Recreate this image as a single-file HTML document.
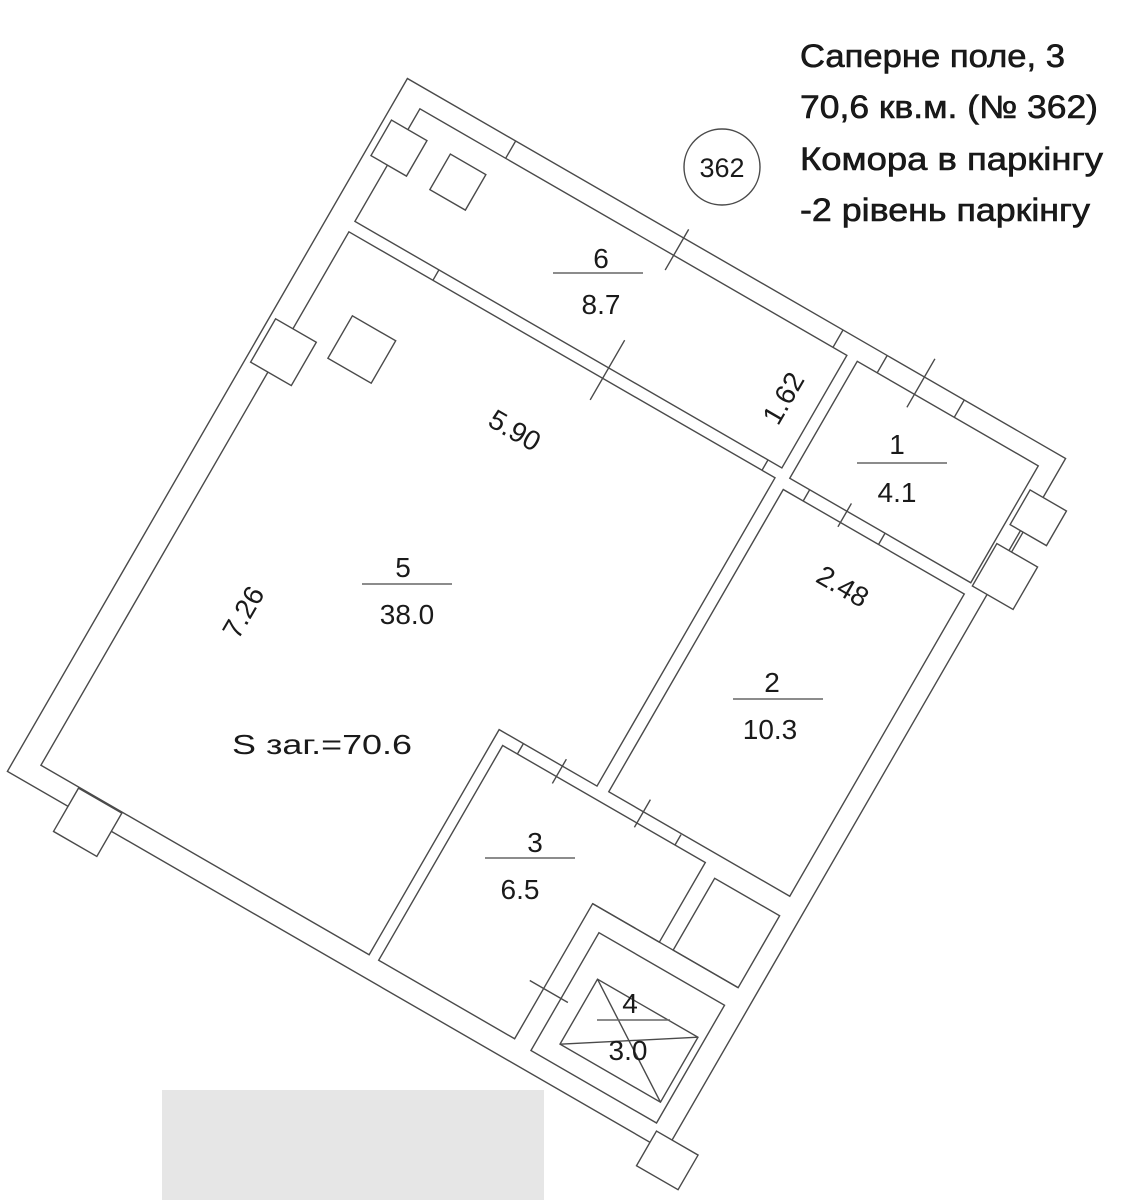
<!DOCTYPE html>
<html><head><meta charset="utf-8"><style>
html,body{margin:0;padding:0;background:#fff;}
svg{display:block;}
text{font-family:"Liberation Sans",Arial,sans-serif;fill:#1a1a1a;}
</style></head><body>
<svg width="1129" height="1200" viewBox="0 0 1129 1200" xmlns="http://www.w3.org/2000/svg">
<rect x="162" y="1090" width="382" height="110" fill="#e6e6e6"/>
<g transform="translate(410,80) rotate(30)" fill="none" stroke="#4a4a4a" stroke-width="1.4">
  <rect x="-3" y="0" width="760" height="800"/>
  <rect x="23" y="20" width="493" height="130"/>
  <rect x="528" y="20" width="209" height="135"/>
  <rect x="528" y="168" width="209" height="349"/>
  <polygon points="23,162 515,162 515,518 402,518 402,778 23,778"/>
  <polygon points="413,530 647,530 647,622 570,622 570,778 413,778"/>
  <rect x="663" y="539" width="75" height="83"/>
  <line x1="570" y1="622" x2="738" y2="622"/>
  <rect x="590" y="644" width="145" height="136"/>
  <rect x="612" y="685" width="116" height="75"/>
  <line x1="612" y1="685" x2="728" y2="760"/>
  <line x1="612" y1="760" x2="728" y2="685"/>
  <g fill="#fff">
    <rect x="4" y="44" width="41" height="41"/>
    <rect x="3" y="274" width="47" height="50"/>
    <rect x="67" y="779" width="50" height="50"/>
    <rect x="742" y="45" width="42" height="40"/>
    <rect x="740" y="108" width="47" height="49"/>
    <rect x="739" y="787" width="48" height="40"/>
  </g>
  <line x1="754" y1="85" x2="754" y2="108"/>
  <rect x="72" y="44" width="41" height="41"/>
  <rect x="68" y="233" width="50" height="49"/>
  <path d="M122 0V20 M316 -10V37 M500 0V20 M551 0V20 M594 -21V35 M640 0V20
           M120 150V162 M316 118V187 M500 150V162 M551 155V168 M594 146V173 M638 155V168
           M430 518V530 M475 510V538 M568 503V535 M612 518V530 M554 720H598"/>
</g>
<circle cx="722" cy="167" r="38" fill="#fff" stroke="#4a4a4a" stroke-width="1.4"/>
<text x="722" y="177" font-size="27" text-anchor="middle">362</text>
<text transform="translate(515,430) rotate(30)" font-size="28" text-anchor="middle" dy="10">5.90</text>
<text transform="translate(783,398) rotate(-60)" font-size="28" text-anchor="middle" dy="10">1.62</text>
<text transform="translate(243,612) rotate(-60)" font-size="28" text-anchor="middle" dy="10">7.26</text>
<text transform="translate(843,586) rotate(30)" font-size="28" text-anchor="middle" dy="10">2.48</text>
<g font-size="28" text-anchor="middle">
  <text x="601" y="268">6</text><line x1="553" y1="273" x2="643" y2="273" stroke="#666" stroke-width="1.5"/><text x="601" y="314">8.7</text>
  <text x="897" y="454">1</text><line x1="857" y1="463" x2="947" y2="463" stroke="#666" stroke-width="1.5"/><text x="897" y="502">4.1</text>
  <text x="403" y="577">5</text><line x1="362" y1="584" x2="452" y2="584" stroke="#666" stroke-width="1.5"/><text x="407" y="624">38.0</text>
  <text x="772" y="692">2</text><line x1="733" y1="699" x2="823" y2="699" stroke="#666" stroke-width="1.5"/><text x="770" y="739">10.3</text>
  <text x="535" y="852">3</text><line x1="485" y1="858" x2="575" y2="858" stroke="#666" stroke-width="1.5"/><text x="520" y="899">6.5</text>
  <text x="630" y="1013">4</text><line x1="597" y1="1020" x2="670" y2="1020" stroke="#666" stroke-width="1.5"/><text x="628" y="1060">3.0</text>
</g>
<text x="232" y="754" font-size="28" textLength="180" lengthAdjust="spacingAndGlyphs">S заг.=70.6</text>
<g font-size="32" fill="#111" stroke="#111" stroke-width="0.6">
  <text x="800" y="67" textLength="265" lengthAdjust="spacingAndGlyphs">Саперне поле, 3</text>
  <text x="800" y="118" textLength="298" lengthAdjust="spacingAndGlyphs">70,6 кв.м. (№ 362)</text>
  <text x="800" y="170" textLength="303" lengthAdjust="spacingAndGlyphs">Комора в паркінгу</text>
  <text x="800" y="221" textLength="290" lengthAdjust="spacingAndGlyphs">-2 рівень паркінгу</text>
</g>
</svg>
</body></html>
